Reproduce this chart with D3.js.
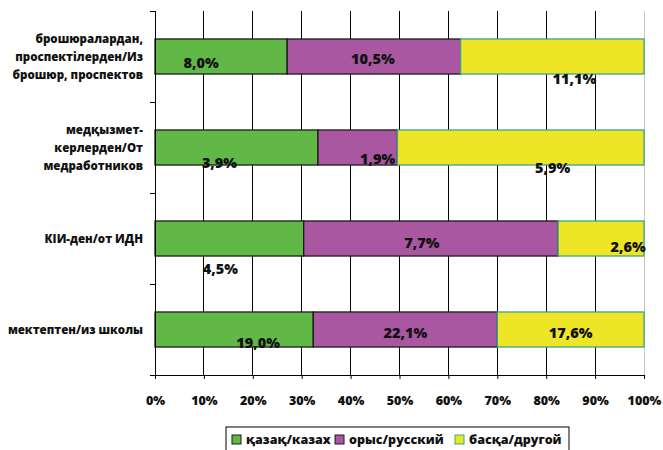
<!DOCTYPE html>
<html><head><meta charset="utf-8">
<script src="https://cdn.jsdelivr.net/npm/d3@7"></script>
<style>
body{margin:0;background:#fff;}
text{font-family:"Open Sans","Noto Sans",sans-serif;font-weight:800;fill:#111;}
</style></head>
<body><svg id="chart" width="663" height="450"></svg>
<script>
const categories = [
  ["брошюралардан,", "проспектілерден/Из", "брошюр, проспектов"],
  ["медқызмет-", "керлерден/От", "медработников"],
  ["КІИ-ден/от ИДН"],
  ["мектептен/из школы"]
];
const seriesNames = ["қазақ/казах", "орыс/русский", "басқа/другой"];
const kazakh  = [8.0, 3.9, 4.5, 19.0];
const russian = [10.5, 1.9, 7.7, 22.1];
const other   = [11.1, 5.9, 2.6, 17.6];
const labelText = [
  ["8,0%", "10,5%", "11,1%"],
  ["3,9%", "1,9%", "5,9%"],
  ["4,5%", "7,7%", "2,6%"],
  ["19,0%", "22,1%", "17,6%"]
];
const xTicks = [0, 0.1, 0.2, 0.3, 0.4, 0.5, 0.6, 0.7, 0.8, 0.9, 1.0];
// label nudges (px) mimicking the original placement
const nudgeX = [[-20, -1, 22], [-17, 20, 32], [-9, -9, 27], [24, 0, 0]];
const nudgeY = [[6, 2, 22], [15, 11, 20], [30, 4, 8], [13, 3, 3]];

const colors = ["#62b846", "#a857a0", "#efe527"];
const strokes = ["#1a1a1a", "#1a1a1a", "#3aa58a"];

const svg = d3.select("#chart");
const m = {left:155, right:19, top:11, bottom:75};
const W = 663 - m.left - m.right, H = 450 - m.top - m.bottom;
const g = svg.append("g").attr("transform", `translate(${m.left},${m.top})`);

const x = d3.scaleLinear().domain([0,1]).range([0, W]);
const y = d3.scaleBand().domain(d3.range(categories.length)).range([0, H]).paddingInner(0.615).paddingOuter(0.3075);

const rows = categories.map((c,i) => {
  const vals = [kazakh[i], russian[i], other[i]];
  const tot = d3.sum(vals);
  let acc = 0;
  return vals.map((v,j) => { const s = {row:i, ser:j, x0:acc/tot, x1:(acc+v)/tot, label:labelText[i][j]}; acc += v; return s; });
});

// gridlines
g.selectAll(".grid").data(xTicks).join("line")
  .attr("x1", d=>x(d)).attr("x2", d=>x(d)).attr("y1", 0).attr("y2", H)
  .attr("stroke", d=> d===1 ? "#c8c8c8" : "#000").attr("stroke-width", 1)
  .attr("shape-rendering","crispEdges");

// bars
const segs = rows.flat();
g.selectAll(".seg").data(segs).join("rect")
  .attr("x", d=>x(d.x0)).attr("width", d=>x(d.x1)-x(d.x0))
  .attr("y", d=>y(d.row)).attr("height", y.bandwidth())
  .attr("fill", d=>colors[d.ser]).attr("stroke", d=>strokes[d.ser]).attr("stroke-width", 1.3);

// labels
g.selectAll(".lbl").data(segs).join("text")
  .attr("x", d=>x((d.x0+d.x1)/2) + nudgeX[d.row][d.ser])
  .attr("y", d=>y(d.row) + y.bandwidth()/2 + nudgeY[d.row][d.ser])
  .attr("text-anchor","middle").attr("dy","0.35em")
  .style("font-size","14.5px").text(d=>d.label);

// y axis
const yAxis = g.append("g").call(d3.axisLeft(y).tickSize(0).tickFormat(""));
yAxis.select(".domain").attr("stroke","#000");
const bounds = d3.range(categories.length+1).map(i => i*H/categories.length);
g.selectAll(".ytick").data(bounds).join("line")
  .attr("x1",-5).attr("x2",0).attr("y1",d=>d).attr("y2",d=>d).attr("stroke","#000").attr("shape-rendering","crispEdges");

// category labels
categories.forEach((lines,i) => {
  const cy = y(i) + y.bandwidth()/2;
  const lh = 18;
  const t = g.append("text").attr("text-anchor","end").style("font-size","11.5px");
  lines.forEach((ln,k) => {
    t.append("tspan").attr("x",-12).attr("y", cy + (k-(lines.length-1)/2)*lh).attr("dy","0.35em").text(ln);
  });
});

// x axis
const xAxis = g.append("g").attr("transform",`translate(0,${H})`)
  .call(d3.axisBottom(x).tickValues(xTicks).tickFormat(d3.format(".0%")).tickSize(4).tickPadding(17));
xAxis.select(".domain").attr("stroke","#000");
xAxis.selectAll("line").attr("stroke","#000");
xAxis.selectAll("text").style("font-size","12.5px").style("font-family","'Open Sans',sans-serif").style("font-weight","800").style("fill","#111");

// legend
const leg = svg.append("g").attr("transform","translate(226,427)");
leg.append("rect").attr("x",0).attr("y",0).attr("width",343).attr("height",30).attr("fill","#fff").attr("stroke","#000");
const legX = [6, 109, 229];
seriesNames.forEach((n,j) => {
  const it = leg.append("g").attr("transform",`translate(${legX[j]},0)`);
  it.append("rect").attr("x",0).attr("y",8).attr("width",9).attr("height",9).attr("fill",colors[j]).attr("stroke",strokes[j]);
  it.append("text").attr("x",14).attr("y",13).attr("dy","0.35em").style("font-size","12.5px").text(n);
});
</script></body></html>
